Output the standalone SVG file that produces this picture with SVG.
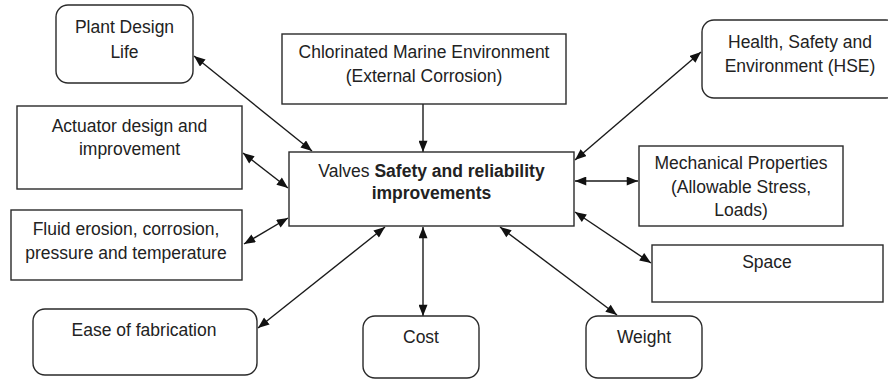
<svg xmlns="http://www.w3.org/2000/svg" width="888" height="379" viewBox="0 0 888 379">
<style>
.box{fill:#fff;stroke:#2a2a2a;stroke-width:1.4}
.t{font-family:"Liberation Sans",Arial,sans-serif;font-size:17.5px;fill:#222;text-anchor:middle}
.b{font-weight:bold}
.c{stroke:#1a1a1a;stroke-width:1.4;fill:none}
</style>
<defs>
<marker id="ah" viewBox="0 0 10 8" refX="10" refY="4" markerWidth="12" markerHeight="9" markerUnits="userSpaceOnUse" orient="auto-start-reverse">
<path d="M0,0 L10,4 L0,8 Z" fill="#111"/>
</marker>
</defs>
<rect width="888" height="379" fill="#fff"/>
<g id="connectors">
<line class="c" x1="194" y1="56" x2="312" y2="151" marker-start="url(#ah)" marker-end="url(#ah)"/>
<line class="c" x1="243" y1="153" x2="288" y2="188" marker-start="url(#ah)" marker-end="url(#ah)"/>
<line class="c" x1="423" y1="104" x2="423" y2="152" marker-end="url(#ah)"/>
<line class="c" x1="244" y1="244" x2="288" y2="218" marker-start="url(#ah)" marker-end="url(#ah)"/>
<line class="c" x1="258" y1="328" x2="385" y2="227" marker-start="url(#ah)" marker-end="url(#ah)"/>
<line class="c" x1="423" y1="227" x2="423" y2="316" marker-start="url(#ah)" marker-end="url(#ah)"/>
<line class="c" x1="500" y1="227" x2="617" y2="315" marker-start="url(#ah)" marker-end="url(#ah)"/>
<line class="c" x1="575" y1="212" x2="651" y2="263" marker-start="url(#ah)" marker-end="url(#ah)"/>
<line class="c" x1="575" y1="181" x2="638" y2="181" marker-start="url(#ah)" marker-end="url(#ah)"/>
<line class="c" x1="575" y1="160" x2="701" y2="52" marker-start="url(#ah)" marker-end="url(#ah)"/>
</g>
<g id="plant">
<rect class="box" x="56" y="5" width="137" height="78" rx="12"/>
<text class="t" x="124.5" y="33">Plant Design</text>
<text class="t" x="124.5" y="58">Life</text>
</g>
<g id="actuator">
<rect class="box" x="17" y="106" width="225" height="83"/>
<text class="t" x="129.5" y="132">Actuator design and</text>
<text class="t" x="129.5" y="155">improvement</text>
</g>
<g id="chlorinated">
<rect class="box" x="282" y="34" width="284" height="70"/>
<text class="t" x="424" y="58">Chlorinated Marine Environment</text>
<text class="t" x="424" y="82">(External Corrosion)</text>
</g>
<g id="central">
<rect class="box" x="289" y="152" width="285" height="74"/>
<text class="t" x="431.5" y="177">Valves <tspan class="b">Safety and reliability</tspan></text>
<text class="t b" x="431.5" y="199">improvements</text>
</g>
<g id="hse">
<rect class="box" x="702" y="20" width="196" height="78" rx="12"/>
<text class="t" x="800" y="48">Health, Safety and</text>
<text class="t" x="800" y="72">Environment (HSE)</text>
</g>
<g id="mechanical">
<rect class="box" x="639" y="146" width="204" height="80"/>
<text class="t" x="741" y="169">Mechanical Properties</text>
<text class="t" x="741" y="193">(Allowable Stress,</text>
<text class="t" x="741" y="216">Loads)</text>
</g>
<g id="fluid">
<rect class="box" x="11" y="210" width="231" height="70"/>
<text class="t" x="126" y="235">Fluid erosion, corrosion,</text>
<text class="t" x="126" y="259">pressure and temperature</text>
</g>
<g id="space">
<rect class="box" x="652" y="245" width="231" height="57"/>
<text class="t" x="767" y="268">Space</text>
</g>
<g id="ease">
<rect class="box" x="33" y="309" width="224" height="66" rx="12"/>
<text class="t" x="144" y="336">Ease of fabrication</text>
</g>
<g id="cost">
<rect class="box" x="363" y="316" width="116" height="62" rx="12"/>
<text class="t" x="421" y="343">Cost</text>
</g>
<g id="weight">
<rect class="box" x="586" y="316" width="116" height="62" rx="12"/>
<text class="t" x="644" y="343">Weight</text>
</g>
</svg>
